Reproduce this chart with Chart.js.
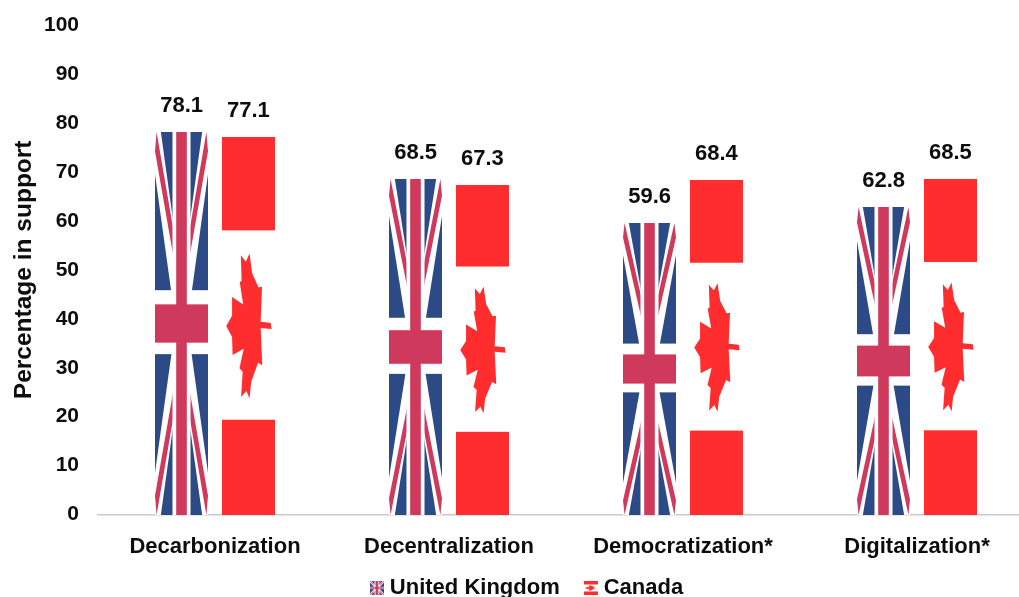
<!DOCTYPE html>
<html>
<head>
<meta charset="utf-8">
<title>Percentage in support</title>
<script src="https://cdn.jsdelivr.net/npm/chart.js@4/dist/chart.umd.min.js"></script>
<style>
  html, body { margin: 0; padding: 0; background: #fff; width: 1019px; height: 597px; overflow: hidden; }
  canvas { display: block; }
</style>
</head>
<body>
<canvas id="chart" width="1054" height="640"></canvas>
<script>
const categories = ['Decarbonization', 'Decentralization', 'Democratization*', 'Digitalization*'];
const ukValues = [78.1, 68.5, 59.6, 62.8];
const canadaValues = [77.1, 67.3, 68.4, 68.5];
const yTicks = [0, 10, 20, 30, 40, 50, 60, 70, 80, 90, 100];

const FONT = '"Liberation Sans", Arial, sans-serif';
const INK = '#0d0d0d';
const UK_BLUE = '#2c4a86';
const UK_RED = '#cf3a5c';
const CA_RED = '#ff2d2d';

// maple leaf outline, in fractions of the flag (the flag lies on its side)
const leaf = [
  [0.08, 0.50], [0.19, 0.473], [0.19, 0.423], [0.40, 0.443], [0.335, 0.384], [0.37, 0.38],
  [0.355, 0.313], [0.45, 0.33], [0.52, 0.308], [0.57, 0.361], [0.69, 0.398], [0.755, 0.396],
  [0.73, 0.489], [0.92, 0.492], [0.935, 0.508], [0.73, 0.505], [0.76, 0.604], [0.68, 0.597],
  [0.55, 0.648], [0.52, 0.692], [0.46, 0.672], [0.36, 0.688], [0.39, 0.621], [0.33, 0.612],
  [0.41, 0.56], [0.20, 0.577], [0.19, 0.529]
];

function poly(ctx, pts) {
  ctx.beginPath();
  pts.forEach((p, i) => (i ? ctx.lineTo(p[0], p[1]) : ctx.moveTo(p[0], p[1])));
  ctx.closePath();
  ctx.fill();
}

// both flags are drawn in a 1x1 box, the caller stretches it onto the bar
function drawUnionJack(ctx) {
  ctx.fillStyle = UK_BLUE;
  ctx.fillRect(0, 0, 1, 1);

  ctx.fillStyle = '#fff';
  poly(ctx, [[0, 0], [0.11, 0], [1, 0.89], [1, 1], [0.89, 1], [0, 0.11]]);
  poly(ctx, [[1, 0], [1, 0.11], [0.11, 1], [0, 1], [0, 0.89], [0.89, 0]]);

  ctx.fillStyle = UK_RED;
  poly(ctx, [[0.03, 0], [0.34, 0.25], [0.34, 0.32], [0, 0.05]]);
  poly(ctx, [[0.97, 0], [0.66, 0.25], [0.66, 0.32], [1, 0.05]]);
  poly(ctx, [[0.03, 1], [0.34, 0.75], [0.34, 0.68], [0, 0.95]]);
  poly(ctx, [[0.97, 1], [0.66, 0.75], [0.66, 0.68], [1, 0.95]]);

  ctx.fillStyle = '#fff';
  ctx.fillRect(0.33, 0, 0.34, 1);
  ctx.fillRect(0, 0.413, 1, 0.167);

  ctx.fillStyle = UK_RED;
  ctx.fillRect(0.4, 0, 0.2, 1);
  ctx.fillRect(0, 0.45, 1, 0.1);
}

function drawCanada(ctx) {
  ctx.fillStyle = CA_RED;
  ctx.fillRect(0, 0, 1, 0.247);
  ctx.fillRect(0, 0.748, 1, 0.252);
  poly(ctx, leaf);
}

function makeIcon(draw, w, h) {
  const c = document.createElement('canvas');
  c.width = w;
  c.height = h;
  const g = c.getContext('2d');
  g.scale(w, h);
  draw(g);
  return c;
}

const painters = [drawUnionJack, drawCanada];

const flagBars = {
  id: 'flagBars',
  // label padding also sets the gap between legend items, so move the row by hand
  afterLayout(chart) {
    chart.legend.top -= 31;
    chart.legend.left += 7;
    chart.legend.right += 7;
  },
  afterDatasetsDraw(chart) {
    const ctx = chart.ctx;
    chart.data.datasets.forEach((ds, d) => {
      chart.getDatasetMeta(d).data.forEach((bar, i) => {
        const { x, y, width, base } = bar.getProps(['x', 'y', 'width', 'base'], true);
        // snap to whole pixels, a soft edge lets the blue show round the white
        const left = Math.round(x - width / 2);
        const top = Math.round(y);
        ctx.save();
        ctx.translate(left, top);
        ctx.scale(Math.round(width), Math.round(base) - top);
        painters[d](ctx);
        ctx.restore();

        // value label over the bar
        ctx.save();
        ctx.fillStyle = INK;
        ctx.font = 'bold 22px ' + FONT;
        ctx.textAlign = 'center';
        ctx.textBaseline = 'alphabetic';
        ctx.fillText(ds.data[i].toFixed(1), x, y - 20);
        ctx.restore();
      });
    });
  }
};

new Chart(document.getElementById('chart'), {
  type: 'bar',
  plugins: [flagBars],
  data: {
    labels: categories,
    datasets: [
      {
        label: 'United Kingdom',
        data: ukValues,
        backgroundColor: '#fff',
        pointStyle: makeIcon(drawUnionJack, 14, 14)
      },
      {
        label: 'Canada',
        data: canadaValues,
        backgroundColor: '#fff',
        pointStyle: makeIcon(drawCanada, 14, 14)
      }
    ]
  },
  options: {
    responsive: false,
    animation: false,
    categoryPercentage: 0.57,
    barPercentage: 0.79,
    layout: { padding: { top: 25, right: 20, left: 10, bottom: 0 } },
    plugins: {
      tooltip: { enabled: false },
      legend: {
        position: 'bottom',
        labels: {
          usePointStyle: true,
          boxWidth: 4,
          color: INK,
          padding: 29,
          font: { family: FONT, size: 22, weight: 'bold' }
        }
      }
    },
    scales: {
      x: {
        grid: { display: false, drawTicks: false },
        border: { color: '#c9c9c9', width: 1.5 },
        ticks: {
          color: INK,
          padding: 19,
          maxRotation: 0,
          autoSkip: false,
          font: { family: FONT, size: 22, weight: 'bold' }
        }
      },
      y: {
        min: 0,
        max: 100,
        grid: { display: false, drawTicks: false },
        border: { display: false },
        afterBuildTicks(axis) {
          axis.ticks = yTicks.map((v) => ({ value: v }));
        },
        afterFit(axis) {
          axis.width = 88;
          // the tick label reservation pushed the plot top down to 30
          axis.paddingTop = 0;
        },
        ticks: {
          color: INK,
          padding: 19,
          font: { family: FONT, size: 21, weight: 'bold' }
        },
        title: {
          display: true,
          text: 'Percentage in support',
          color: INK,
          padding: 0,
          font: { family: FONT, size: 24.5, weight: 'bold' }
        }
      }
    }
  }
});
</script>
</body>
</html>
